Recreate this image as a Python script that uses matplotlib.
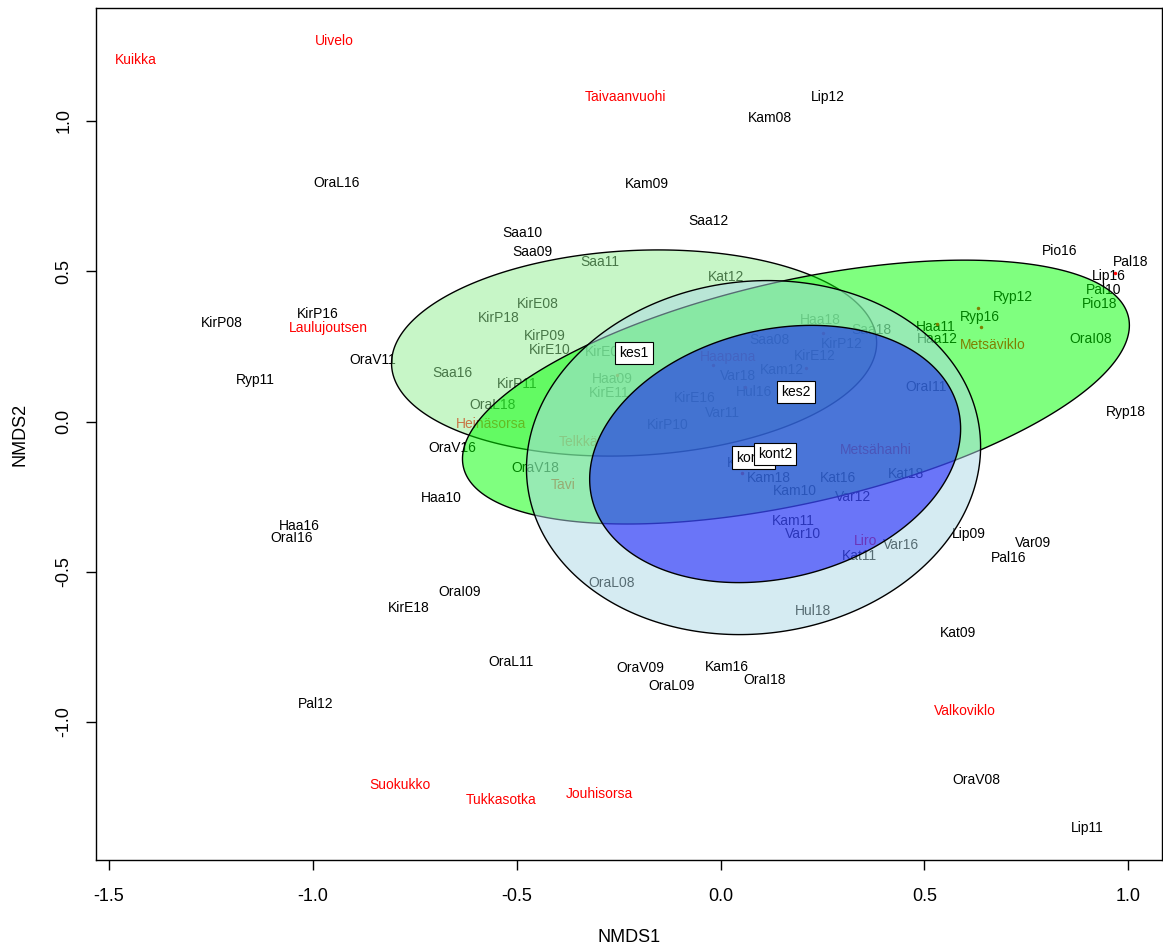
import numpy as np
import matplotlib
matplotlib.use("Agg")
import matplotlib.pyplot as plt
from matplotlib.patches import Polygon

plt.rcParams['font.family'] = ['Liberation Sans', 'DejaVu Sans']
plt.rcParams['axes.unicode_minus'] = False

# site scores (label positions)
site_names = ['OraL16', 'Kam09', 'Lip12', 'Kam08', 'Saa12', 'Saa10', 'Saa09', 'Saa11',
              'Kat12', 'Pio16', 'Pal18', 'Lip16', 'Pal10', 'Pio18', 'Ryp12', 'Ryp16',
              'Haa11', 'Haa12', 'OraI08', 'Ryp18', 'KirP08', 'KirP16', 'OraV11', 'Ryp11',
              'KirE08', 'KirP18', 'KirP09', 'KirE10', 'KirE09', 'Saa16', 'KirP11', 'OraL18',
              'Haa09', 'KirE11', 'OraV16', 'OraV18', 'Haa10', 'Haa16', 'OraI16', 'KirE18',
              'OraI09', 'OraL08', 'OraL11', 'OraV09', 'OraL09', 'Kam16', 'OraI18', 'Pal12',
              'Kat09', 'Lip09', 'Var09', 'Pal16', 'OraV08', 'Lip11', 'Hul18', 'Var16',
              'Kat11', 'Kam11', 'Var10', 'Var12', 'Kam10', 'Kat16', 'Kat18', 'Kam18',
              'Kat10', 'KirP10', 'KirE16', 'Var11', 'Hul16', 'Var18', 'Kam12', 'Saa08',
              'KirE12', 'KirP12', 'Haa18', 'Saa18', 'OraI11']
site_x = [-0.943, -0.180, 0.264, 0.122, -0.030, -0.487, -0.462, -0.295,
          0.014, 0.831, 1.007, 0.953, 0.941, 0.929, 0.718, 0.637,
          0.529, 0.531, 0.907, 0.995, -1.223, -0.987, -0.852, -1.142,
          -0.447, -0.543, -0.430, -0.418, -0.281, -0.658, -0.499, -0.560,
          -0.266, -0.273, -0.658, -0.455, -0.685, -1.034, -1.051, -0.764,
          -0.639, -0.266, -0.514, -0.197, -0.119, 0.016, 0.107, -0.992,
          0.583, 0.610, 0.767, 0.706, 0.627, 0.899, 0.227, 0.443,
          0.342, 0.178, 0.203, 0.325, 0.183, 0.289, 0.455, 0.119,
          0.060, -0.129, -0.062, 0.004, 0.082, 0.043, 0.151, 0.119,
          0.232, 0.298, 0.244, 0.369, 0.504]
site_y = [0.794, 0.790, 1.080, 1.010, 0.667, 0.627, 0.564, 0.531,
          0.481, 0.567, 0.531, 0.484, 0.438, 0.391, 0.414, 0.348,
          0.314, 0.275, 0.275, 0.032, 0.328, 0.358, 0.205, 0.138,
          0.391, 0.344, 0.285, 0.238, 0.231, 0.161, 0.125, 0.055,
          0.141, 0.095, -0.088, -0.155, -0.255, -0.348, -0.388, -0.621,
          -0.567, -0.538, -0.800, -0.820, -0.880, -0.817, -0.860, -0.940,
          -0.704, -0.374, -0.404, -0.454, -1.193, -1.353, -0.630, -0.411,
          -0.448, -0.331, -0.374, -0.251, -0.231, -0.188, -0.175, -0.188,
          -0.138, -0.012, 0.078, 0.028, 0.098, 0.151, 0.171, 0.271,
          0.218, 0.258, 0.338, 0.305, 0.115]

# species scores
species_names = ['Kuikka', 'Uivelo', 'Taivaanvuohi', 'Laulujoutsen', 'Heinäsorsa',
                 'Telkkä', 'Tavi', 'Haapana', 'Metsäviklo', 'Metsähanhi', 'Liro',
                 'Valkoviklo', 'Suokukko', 'Tukkasotka', 'Jouhisorsa']
species_x = [-1.434, -0.948, -0.232, -0.963, -0.563, -0.349, -0.386, 0.019, 0.669,
             0.382, 0.357, 0.600, -0.786, -0.538, -0.298]
species_y = [1.203, 1.266, 1.080, 0.311, -0.008, -0.068, -0.211, 0.215, 0.255,
             -0.095, -0.398, -0.963, -1.210, -1.260, -1.240]

# point positions where label was pushed aside
dot_x = [-0.253, -0.019, 0.060, 0.210, 0.251, 0.053, 0.632, 0.639, 0.531, 0.968]
dot_y = [0.155, 0.188, 0.115, 0.178, 0.295, -0.171, 0.378, 0.314, 0.324, 0.494]

# group ellipses: centroid, spread in x and y, correlation
groups = ['kes1', 'kes2', 'kont1', 'kont2']
group_x = [-0.212, 0.185, 0.081, 0.134]
group_y = [0.228, 0.098, -0.120, -0.108]
group_sx = [0.595, 0.818, 0.557, 0.455]
group_sy = [0.343, 0.439, 0.589, 0.428]
group_r = [0.10, 0.506, 0.062, 0.196]
group_cols = ['lightgreen', 'lime', 'lightblue', 'blue']

fig = plt.figure(figsize=(11.63, 9.49), dpi=100)
ax = fig.add_axes([96 / 1163, 1 - 860 / 949, 1066 / 1163, 852 / 949])

for n, x, y in zip(site_names, site_x, site_y):
    ax.text(x, y, n, ha='center', va='center', fontsize=10, color='black', zorder=1)
for n, x, y in zip(species_names, species_x, species_y):
    ax.text(x, y, n, ha='center', va='center', fontsize=10, color='red', zorder=1)
ax.plot(dot_x, dot_y, 'o', ms=2.5, color='red', mec='none', zorder=1)

t = np.linspace(0, 2 * np.pi, 300)
circle = np.vstack([np.cos(t), np.sin(t)])
for i in range(len(groups)):
    sx, sy, r = group_sx[i], group_sy[i], group_r[i]
    cov = np.array([[sx * sx, r * sx * sy], [r * sx * sy, sy * sy]])
    L = np.linalg.cholesky(cov)
    pts = (L @ circle).T + [group_x[i], group_y[i]]
    fc = matplotlib.colors.to_rgba(group_cols[i], 0.5)
    ax.add_patch(Polygon(pts, closed=True, fc=fc, ec='black', lw=1, zorder=2))

for g, x, y in zip(groups, group_x, group_y):
    ax.text(x, y, g, ha='center', va='center', fontsize=10, zorder=3,
            bbox=dict(boxstyle='square,pad=0.3', fc='white', ec='black', lw=0.8))

ax.set_xlim(-1.532, 1.083)
ax.set_ylim(-1.459, 1.376)
xt = [-1.5, -1.0, -0.5, 0.0, 0.5, 1.0]
yt = [-1.0, -0.5, 0.0, 0.5, 1.0]
ax.set_xticks(xt, ['%.1f' % v for v in xt])
ax.set_yticks(yt, ['%.1f' % v for v in yt])
ax.tick_params(direction='out', length=7, labelsize=13, width=1)
ax.tick_params(axis='x', pad=13)
ax.tick_params(axis='y', pad=10)
plt.setp(ax.get_yticklabels(), rotation=90, va='center')
for s in ax.spines.values():
    s.set_linewidth(1)

ax.set_xlabel('NMDS1', fontsize=13)
ax.set_ylabel('NMDS2', fontsize=13)
ax.xaxis.set_label_coords(0.5, -(938 - 860) / 852)
ax.xaxis.label.set_va('center')
ax.yaxis.set_label_coords(-(96 - 20) / 1066, 0.5)
ax.yaxis.label.set_va('center')

fig.savefig('out.png', dpi=100)
